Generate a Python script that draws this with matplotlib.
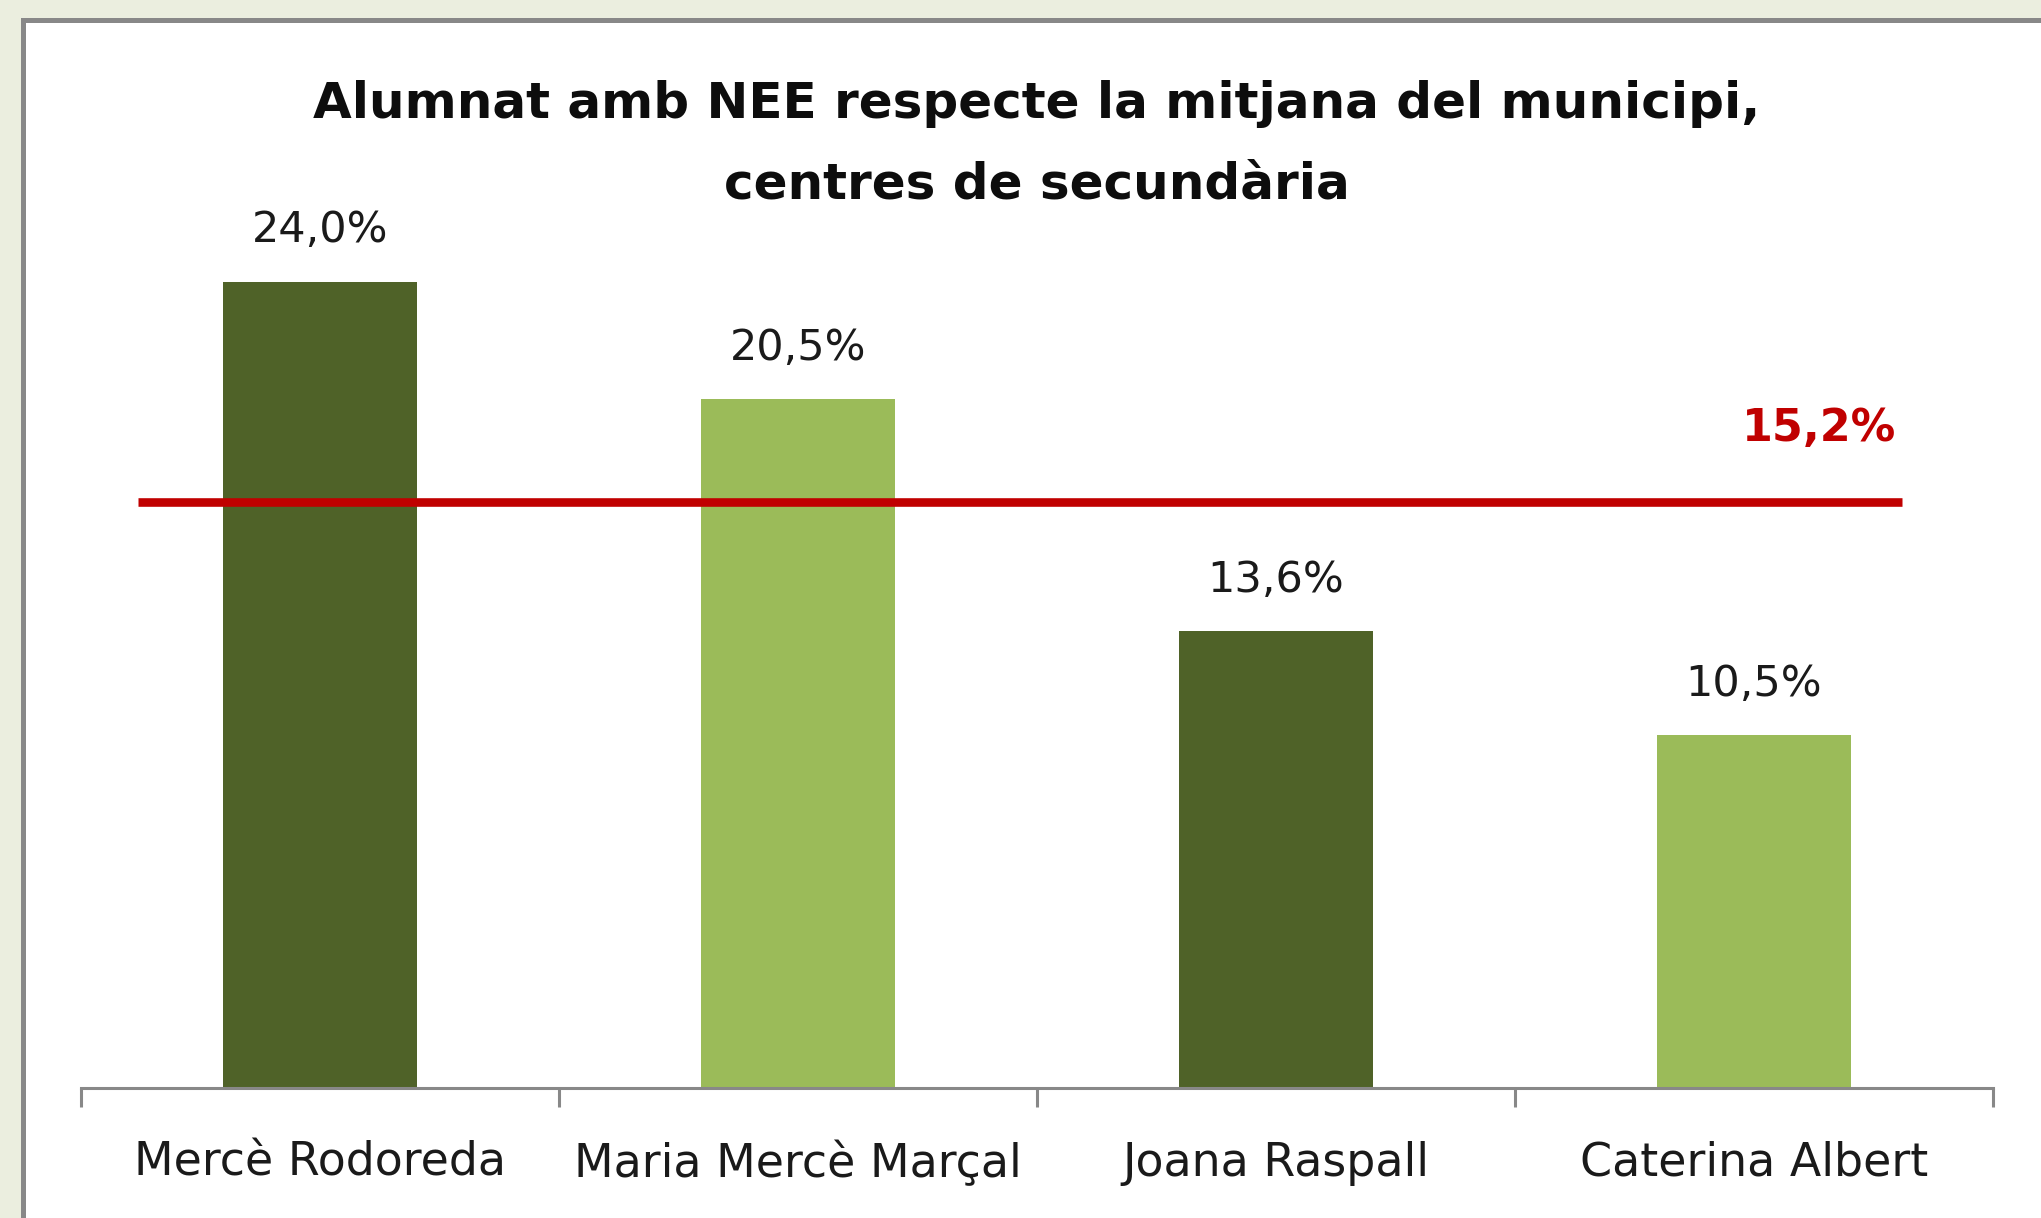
import matplotlib
matplotlib.use("Agg")
import matplotlib.pyplot as plt
from matplotlib.patches import Rectangle

categories = ["Mercè Rodoreda", "Maria Mercè Marçal", "Joana Raspall", "Caterina Albert"]
values = [24.0, 20.5, 13.6, 10.5]
value_labels = ["24,0%", "20,5%", "13,6%", "10,5%"]
average = 15.2
average_label = "15,2%"
title = "Alumnat amb NEE respecte la mitjana del municipi,\ncentres de secundària"

bar_colors = ["#4F6228", "#9BBB59", "#4F6228", "#9BBB59"]
FONT = ["DejaVu Sans"]

W, H = 2041, 1218
fig = plt.figure(figsize=(W / 100, H / 100), dpi=100)
fig.patch.set_facecolor("#EBEEDF")

# white chart frame with gray border
frame = Rectangle((22.5 / W, -0.1), 1.2, (H - 19.5) / H + 0.1, transform=fig.transFigure,
                  facecolor="white", edgecolor="#888888", linewidth=3.6, zorder=-10)
fig.patches.append(frame)

ax_left, ax_right = 81, 1993
ax_bottom, ax_top = 1088, 200
ax = fig.add_axes([ax_left / W, (H - ax_bottom) / H, (ax_right - ax_left) / W, (ax_bottom - ax_top) / H])
ax.set_facecolor("none")

x = list(range(len(categories)))
bars = ax.bar(x, values, width=0.405, color=bar_colors, zorder=2)
ax.set_xlim(-0.5, len(categories) - 0.5)
ax.set_ylim(0, (ax_bottom - ax_top) / 33.6)

for xi, v, lab in zip(x, values, value_labels):
    ax.annotate(lab, (xi, v), xytext=(0, 37), textcoords="offset points",
                ha="center", va="center", fontsize=31, color="#1a1a1a", family=FONT)

for s in ["top", "right", "left"]:
    ax.spines[s].set_visible(False)
ax.spines["bottom"].set_color("#888888")
ax.spines["bottom"].set_linewidth(2.2)
ax.set_yticks([])
ax.set_xticks(x)
ax.set_xticklabels(categories, fontsize=33, color="#1a1a1a", family=FONT)
ax.tick_params(axis="x", which="major", length=0, pad=38)
ax.set_xticks([i - 0.5 for i in range(len(categories) + 1)], minor=True)
ax.tick_params(axis="x", which="minor", length=14, width=2.2, color="#888888", direction="out")

# average line on a secondary scale
ax2 = ax.twinx()
ax2.set_ylim(0, average * (ax_bottom - ax_top) / (ax_bottom - 502))
ax2.set_yticks([])
for s in ax2.spines.values():
    s.set_visible(False)
x_start, x_end = -0.38, 3.31
ax2.plot([x_start, x_end], [average, average], color="#C00000", linewidth=6.2,
         solid_capstyle="butt", zorder=3)
ax2.annotate(average_label, (x_end, average), xytext=(-4, 53), textcoords="offset points",
             ha="right", va="center", fontsize=32, fontweight="bold", color="#C00000", family=FONT)

ax.set_title(title, fontsize=36, fontweight="bold", color="#0d0d0d", family=FONT,
             linespacing=1.85, pad=0, y=(ax_bottom - 80) / (ax_bottom - ax_top), va="top")

fig.savefig("out.png", dpi=100, facecolor=fig.get_facecolor())
